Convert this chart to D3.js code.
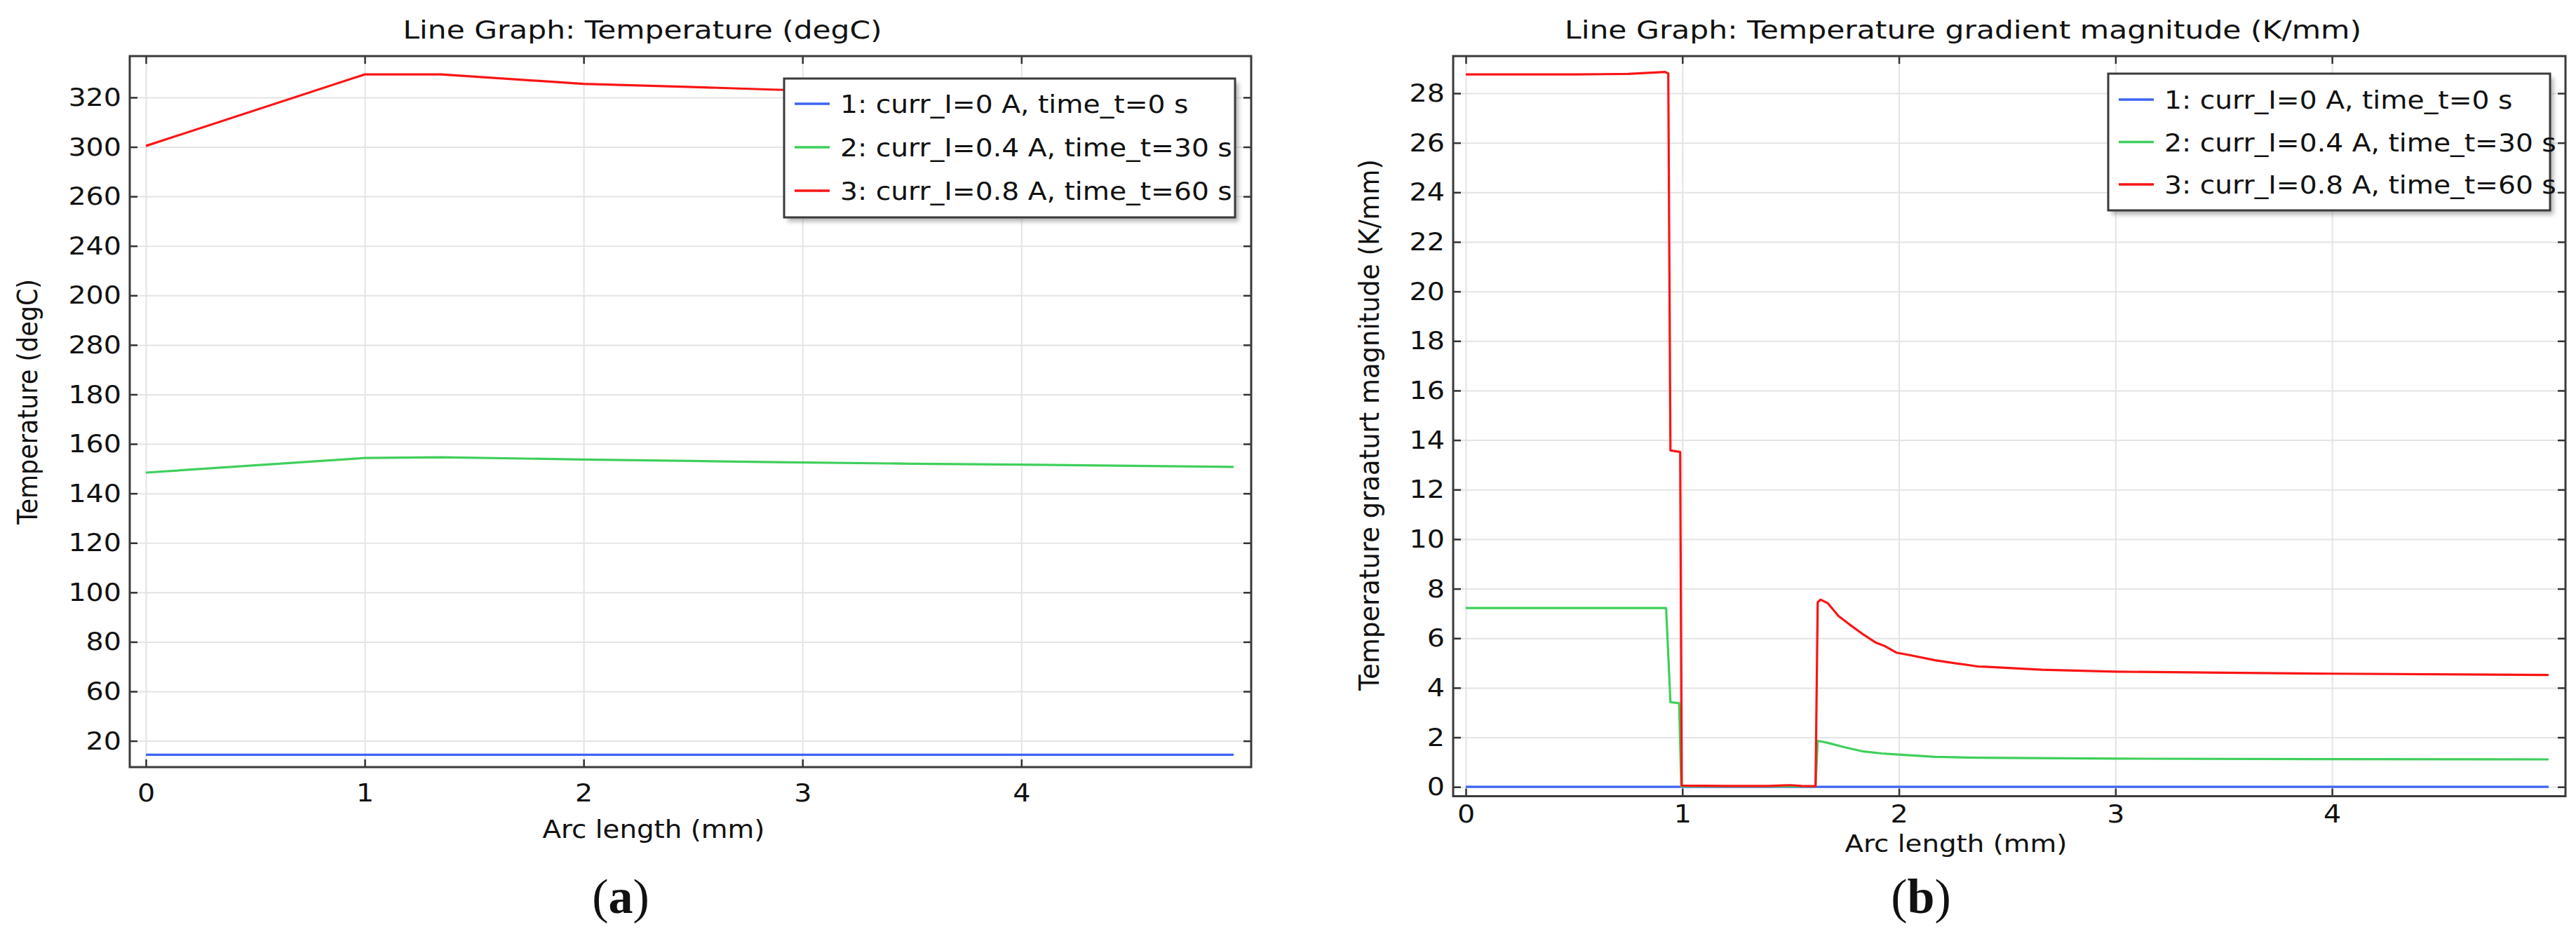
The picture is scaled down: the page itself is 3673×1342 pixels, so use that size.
<!DOCTYPE html>
<html>
<head>
<meta charset="utf-8">
<script src="https://cdn.jsdelivr.net/npm/d3@7"></script>
<style>
  body { margin: 0; background: #fff; }
  text { font-family: "DejaVu Sans", sans-serif; fill: #111; }
</style>
</head>
<body>
<svg id="fig"></svg>
<script>
// ---- data ----
var seriesNames = ["1: curr_I=0 A, time_t=0 s", "2: curr_I=0.4 A, time_t=30 s", "3: curr_I=0.8 A, time_t=60 s"];
var seriesColors = ["#3d64f5", "#3fcf5c", "#fa1414"];

// (a) temperature along the arc
var tempX = [0, 1, 1.35, 2, 2.5, 2.886, 3.5, 4, 4.97];
var tempBlue = [54.4, 54.4, 54.4, 54.4, 54.4, 54.4, 54.4, 54.4, 54.4];
var tempGreen = [168.4, 174.3, 174.6, 173.7, 173.1, 172.6, 172.0, 171.6, 170.7];
var tempRed = [300.4, 329.3, 329.3, 325.5, 324.2, 323.1, 322.3, 321.7, 321.0];
var tempYTicks = [320, 300, 280, 260, 240, 220, 200, 180, 160, 140, 120, 100, 80, 60];
var tempYLabels = ["320", "300", "260", "240", "200", "280", "180", "160", "140", "120", "100", "80", "60", "20"];

// (b) temperature gradient magnitude along the arc
var gradBlueX = [0, 1, 2, 3, 4, 5.0];
var gradBlue = [0, 0, 0, 0, 0, 0];
var gradGreenX = [0, 0.925, 0.945, 0.985, 0.995, 1.3, 1.615, 1.625, 1.671, 1.75, 1.836, 1.92, 1.985, 2.167, 2.365, 3.0, 4.0, 5.0];
var gradGreen = [7.22, 7.22, 3.42, 3.38, 0.02, 0.02, 0.02, 1.86, 1.78, 1.6, 1.43, 1.35, 1.31, 1.21, 1.18, 1.14, 1.12, 1.11];
var gradRedX = [0, 0.5, 0.75, 0.92, 0.935, 0.945, 0.99, 0.997, 1.2, 1.4, 1.5, 1.55, 1.615, 1.625, 1.638, 1.671, 1.721, 1.77, 1.836, 1.894, 1.936, 1.988, 2.05, 2.167, 2.365, 2.4, 2.66, 3.0, 3.5, 4.0, 5.0];
var gradRed = [28.76, 28.76, 28.78, 28.86, 28.8, 13.58, 13.52, 0.05, 0.04, 0.04, 0.07, 0.04, 0.03, 7.45, 7.56, 7.42, 6.9, 6.57, 6.15, 5.82, 5.68, 5.42, 5.32, 5.11, 4.86, 4.85, 4.73, 4.65, 4.61, 4.57, 4.52];
var gradYTicks = [0, 2, 4, 6, 8, 10, 12, 14, 16, 18, 20, 22, 24, 26, 28];

var xTicks = [0, 1, 2, 3, 4];

// ---- page ----
var W = 3673, H = 1342;
var svg = d3.select("#fig").attr("width", W).attr("height", H);
svg.append("rect").attr("width", W).attr("height", H).attr("fill", "#fff");

var defs = svg.append("defs");
defs.append("filter").attr("id", "shadow")
    .attr("x", "-10%").attr("y", "-10%").attr("width", "120%").attr("height", "130%")
    .append("feGaussianBlur").attr("stdDeviation", 3);

function widen(sel, k) {
    sel.each(function() {
        var w = this.getComputedTextLength();
        d3.select(this).attr("textLength", w * k).attr("lengthAdjust", "spacingAndGlyphs");
    });
}

function drawPanel(cfg) {
    var g = svg.append("g");
    var x = d3.scaleLinear().domain(cfg.xDomain).range([cfg.left, cfg.right]);
    var y = d3.scaleLinear().domain(cfg.yDomain).range([cfg.bottom, cfg.top]);
    var pw = cfg.right - cfg.left, ph = cfg.bottom - cfg.top;

    // grid
    g.append("g").attr("transform", "translate(0," + cfg.bottom + ")")
        .call(d3.axisBottom(x).tickValues(xTicks).tickSize(-ph).tickFormat(""))
        .call(s => s.select(".domain").remove())
        .selectAll("line").attr("stroke", "#e4e4e4").attr("stroke-width", 2);
    g.append("g").attr("transform", "translate(" + cfg.left + ",0)")
        .call(d3.axisLeft(y).tickValues(cfg.yTicks).tickSize(-pw).tickFormat(""))
        .call(s => s.select(".domain").remove())
        .selectAll("line").attr("stroke", "#e4e4e4").attr("stroke-width", 2);

    // series
    var line = d3.line().x(d => x(d[0])).y(d => y(d[1]));
    cfg.series.forEach(function(s, i) {
        g.append("path")
            .datum(d3.zip(s[0], s[1]))
            .attr("d", line)
            .attr("fill", "none")
            .attr("stroke", seriesColors[i])
            .attr("stroke-width", 3.2)
            .attr("stroke-linejoin", "round");
    });

    // axes with inward ticks on all four sides
    var bottom = g.append("g").attr("transform", "translate(0," + cfg.bottom + ")")
        .call(d3.axisBottom(x).tickValues(xTicks).tickFormat(d3.format("d"))
            .tickSizeInner(-11).tickSizeOuter(0).tickPadding(cfg.xPad));
    var left = g.append("g").attr("transform", "translate(" + cfg.left + ",0)")
        .call(d3.axisLeft(y).tickValues(cfg.yTicks).tickFormat((d, i) => cfg.yLabels[i])
            .tickSizeInner(-11).tickSizeOuter(0).tickPadding(12));
    var top = g.append("g").attr("transform", "translate(0," + cfg.top + ")")
        .call(d3.axisTop(x).tickValues(xTicks).tickSizeInner(-11).tickSizeOuter(0).tickFormat(""));
    var right = g.append("g").attr("transform", "translate(" + cfg.right + ",0)")
        .call(d3.axisRight(y).tickValues(cfg.yTicks).tickSizeInner(-11).tickSizeOuter(0).tickFormat(""));
    [bottom, left, top, right].forEach(function(a) {
        a.attr("font-family", null).attr("font-size", null);
        a.select(".domain").remove();
        a.selectAll("line").attr("stroke", "#333").attr("stroke-width", 2.5);
        a.selectAll("text").attr("font-size", 36).attr("fill", "#111");
    });
    widen(bottom.selectAll("text"), 1.1);
    widen(left.selectAll("text"), 1.1);

    g.append("rect")
        .attr("x", cfg.left).attr("y", cfg.top).attr("width", pw).attr("height", ph)
        .attr("fill", "none").attr("stroke", "#3a3a3a").attr("stroke-width", 3);

    // legend
    var lg = g.append("g").attr("transform", "translate(" + cfg.legend.x + "," + cfg.legend.y + ")");
    lg.append("rect").attr("x", 5).attr("y", 6).attr("width", cfg.legend.w).attr("height", cfg.legend.h)
        .attr("fill", "#777").attr("opacity", 0.55).attr("filter", "url(#shadow)");
    lg.append("rect").attr("width", cfg.legend.w).attr("height", cfg.legend.h)
        .attr("fill", "#fff").attr("stroke", "#3a3a3a").attr("stroke-width", 3);
    seriesNames.forEach(function(name, i) {
        var cy = cfg.legend.row0 + i * cfg.legend.rowGap;
        lg.append("line").attr("x1", 15).attr("x2", 65).attr("y1", cy).attr("y2", cy)
            .attr("stroke", seriesColors[i]).attr("stroke-width", 3.5);
        lg.append("text").attr("x", 80).attr("y", cy + 13).attr("font-size", 36).text(name);
    });
    widen(lg.selectAll("text"), 1.09);

    // titles and labels
    g.append("text").attr("x", cfg.titleX).attr("y", 55).attr("text-anchor", "middle")
        .attr("font-size", 36).attr("textLength", cfg.titleW).attr("lengthAdjust", "spacingAndGlyphs")
        .text(cfg.title);
    g.append("text").attr("x", cfg.xLabelX).attr("y", cfg.xLabelY).attr("text-anchor", "middle")
        .attr("font-size", cfg.xLabelSize).attr("textLength", 317).attr("lengthAdjust", "spacingAndGlyphs")
        .text("Arc length (mm)");
    g.append("text")
        .attr("transform", "translate(" + cfg.yLabelX + "," + cfg.yLabelY + ") scale(1.1,1) rotate(-90)")
        .attr("text-anchor", "middle").attr("font-size", 36)
        .attr("textLength", cfg.yLabelW).attr("lengthAdjust", "spacingAndGlyphs")
        .text(cfg.yLabel);

    var cap = g.append("text").attr("x", cfg.capX).attr("y", 1302).attr("text-anchor", "middle")
        .attr("font-size", 70).style("font-family", "'Liberation Serif', serif");
    cap.append("tspan").text("(");
    cap.append("tspan").attr("font-weight", "bold").text(cfg.cap);
    cap.append("tspan").text(")");
}

drawPanel({
    left: 185, right: 1784, top: 80, bottom: 1094,
    xDomain: [-0.0737, 5.05], yDomain: [49.4, 336.7],
    yTicks: tempYTicks, yLabels: tempYLabels, xPad: 23,
    series: [[tempX, tempBlue], [tempX, tempGreen], [tempX, tempRed]],
    legend: { x: 1118, y: 112, w: 643, h: 198, row0: 36, rowGap: 62 },
    title: "Line Graph: Temperature (degC)", titleX: 916, titleW: 683,
    xLabelX: 932, xLabelY: 1195, xLabelSize: 36,
    yLabel: "Temperature (degC)", yLabelX: 53, yLabelY: 573, yLabelW: 350,
    capX: 885, cap: "a"
});

drawPanel({
    left: 2072, right: 3658, top: 80, bottom: 1135.5,
    xDomain: [-0.0583, 5.078], yDomain: [-0.376, 29.5],
    yTicks: gradYTicks, yLabels: gradYTicks.map(String), xPad: 12,
    series: [[gradBlueX, gradBlue], [gradGreenX, gradGreen], [gradRedX, gradRed]],
    legend: { x: 3006, y: 105, w: 630, h: 195, row0: 37, rowGap: 60.5 },
    title: "Line Graph: Temperature gradient magnitude (K/mm)", titleX: 2799, titleW: 1136,
    xLabelX: 2789, xLabelY: 1215, xLabelSize: 34,
    yLabel: "Temperature graaturt magnitude (K/mm)", yLabelX: 1966, yLabelY: 606, yLabelW: 758,
    capX: 2739, cap: "b"
});
</script>
</body>
</html>
